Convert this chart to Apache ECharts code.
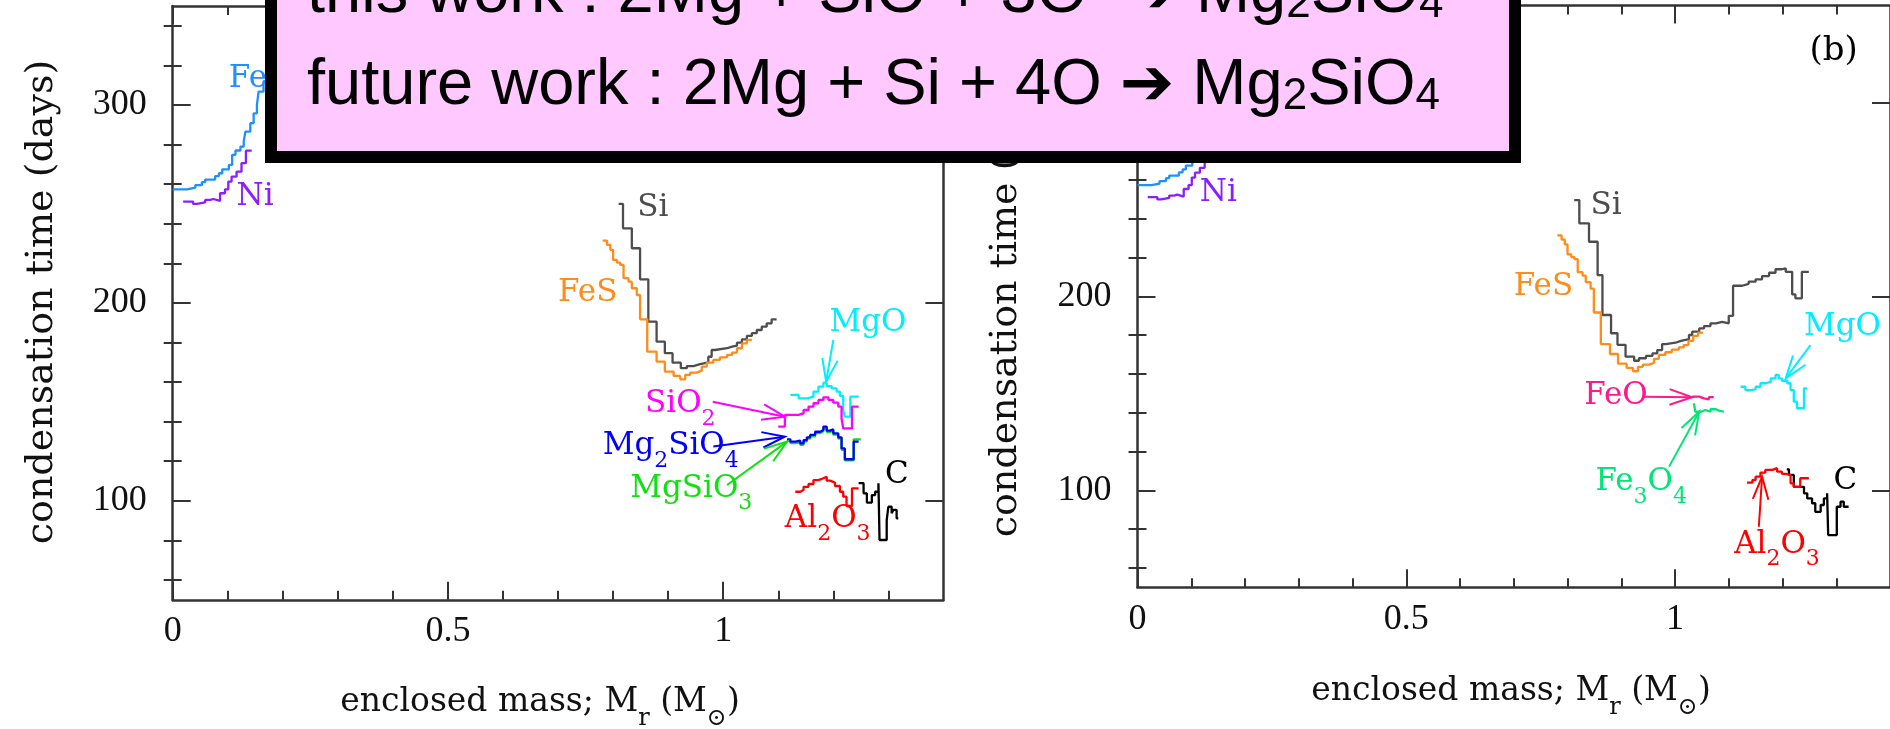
<!DOCTYPE html>
<html><head><meta charset="utf-8">
<script src="https://cdn.jsdelivr.net/npm/echarts@6/dist/echarts.min.js"></script>
<style>html,body{margin:0;padding:0;background:#fff}#c{width:1890px;height:729px}</style>
</head><body><div id="c"></div>
<script>
// ---- tick values ----
const xMajorTicks = [0, 0.5, 1];
const xMinorTicks = [0.1,0.2,0.3,0.4,0.6,0.7,0.8,0.9,1.1,1.2,1.3];
const yMajorTicks = [100, 200, 300];
const yMinorTicks = [60,80,120,140,160,180,220,240,260,280,320,340];

// ---- series data: [enclosed mass, condensation time] (step: value holds until next x) ----
const fe = [[0,257.4],[0.026,258.2],[0.041,259.5],[0.053,261],[0.059,262.3],[0.077,264],[0.084,265.5],[0.09,267.5],[0.102,269.7],[0.108,274.8],[0.114,277],[0.123,279],[0.129,281.5],[0.132,286.5],[0.141,290.8],[0.147,295.8],[0.153,300],[0.156,306.7],[0.165,312],[0.175,318],[0.185,318]];
const ni = [[0.019,251.2],[0.037,250],[0.044,250.8],[0.059,252],[0.068,252.5],[0.074,251.5],[0.086,255.4],[0.095,257.4],[0.101,261.3],[0.107,263.8],[0.116,266.3],[0.125,270.6],[0.133,276.9],[0.1435,276.9]];
const siA = [[0.810,250],[0.818,237.7],[0.834,227.6],[0.849,211.9],[0.864,190.5],[0.879,180.4],[0.894,174.6],[0.908,169.8],[0.923,167],[0.934,168.1],[0.946,169.1],[0.958,170],[0.973,172.8],[0.979,176.2],[0.985,177.1],[1.007,177.9],[1.016,178.4],[1.025,179.9],[1.034,181.6],[1.043,183.3],[1.052,184.7],[1.061,186.3],[1.070,188],[1.079,189.7],[1.088,191.7],[1.097,191.7]];
const fes = [[0.781,231.5],[0.789,229.3],[0.795,226.8],[0.800,221.7],[0.807,220.3],[0.813,219.2],[0.819,212.5],[0.828,210.7],[0.834,207.4],[0.843,204],[0.849,191.7],[0.862,175.4],[0.879,170.3],[0.894,165.3],[0.910,163.1],[0.922,161.4],[0.931,163.6],[0.940,164.8],[0.952,165.8],[0.961,167.8],[0.970,169.8],[0.982,171.2],[0.994,172.5],[1.007,173.7],[1.016,174.9],[1.025,177.1],[1.034,179.6],[1.043,181.3],[1.052,181.3]];
const mgoA = [[1.122,153.5],[1.137,151.8],[1.152,152.6],[1.164,155.2],[1.173,157.7],[1.182,159.7],[1.188,158],[1.197,156.8],[1.206,155.2],[1.212,153],[1.218,145.9],[1.221,142.5],[1.231,152.6],[1.246,152.6]];
const sio2 = [[1.100,137.5],[1.112,143.4],[1.137,144.2],[1.146,145.9],[1.155,147.6],[1.164,149.3],[1.173,151],[1.182,152.3],[1.191,151],[1.200,149.6],[1.209,147.6],[1.215,141.6],[1.218,136.6],[1.234,147.6],[1.246,147.6]];
const mg2sio4 = [[1.116,131.1],[1.122,129.9],[1.131,130.4],[1.140,129],[1.146,130.7],[1.152,132.1],[1.158,133.3],[1.167,134.9],[1.176,135.8],[1.182,137.5],[1.188,135.5],[1.194,136.1],[1.200,134.1],[1.209,132.1],[1.215,126.5],[1.221,121],[1.237,129.9],[1.246,129.9]];
const mgsio3 = [[1.116,130.3],[1.122,129.2],[1.131,129.6],[1.140,128.3],[1.146,130],[1.152,131.4],[1.158,132.6],[1.167,134.2],[1.176,135.1],[1.182,136.6],[1.188,134.8],[1.194,135.3],[1.200,133.4],[1.209,131.4],[1.215,125.8],[1.221,120.4],[1.237,131.1],[1.250,131.1]];
const al2o3A = [[1.131,104.6],[1.140,105.5],[1.146,107.1],[1.155,108.5],[1.164,110.5],[1.173,111.4],[1.182,112.2],[1.188,110.2],[1.194,109.2],[1.203,107.5],[1.212,104.6],[1.218,102.1],[1.224,97.4],[1.234,106.3],[1.246,106.3]];
const cA = [[1.246,108.9],[1.255,103.8],[1.261,99.1],[1.270,102.9],[1.276,104.6],[1.282,108.9],[1.284,80.2],[1.297,90.3],[1.300,97],[1.306,93.7],[1.309,95.4],[1.315,91.2],[1.318,91.2]];

const siB = [[0.8125,249.7],[0.822,237.7],[0.840,228.2],[0.856,211],[0.865,190.4],[0.881,181],[0.893,175],[0.908,168.9],[0.924,166.8],[0.933,168.1],[0.946,169.3],[0.958,170.6],[0.967,172.3],[0.976,175.4],[0.983,176.1],[1.001,177.1],[1.011,177.9],[1.026,180.1],[1.032,181.8],[1.045,183.5],[1.054,184.7],[1.066,186.1],[1.076,186.9],[1.088,186.1],[1.100,190],[1.108,205.5],[1.125,206.5],[1.137,207.6],[1.150,208.8],[1.162,210.5],[1.175,212.2],[1.187,214],[1.199,214.5],[1.206,212.7],[1.218,201],[1.224,199],[1.236,212.7],[1.249,212.7]];
const mgoB = [[1.122,153.4],[1.131,151.7],[1.141,152],[1.150,153.4],[1.159,155.2],[1.168,155.9],[1.178,157.7],[1.187,159.5],[1.193,157.7],[1.199,156.5],[1.209,155.2],[1.215,151.7],[1.221,145.7],[1.227,142.3],[1.240,152.6],[1.246,152.6]];
const feo = [[1.032,148.3],[1.045,147.4],[1.054,146.9],[1.063,148],[1.072,148]];
const fe3o4 = [[1.035,144.9],[1.038,140.5],[1.048,141.4],[1.057,140.5],[1.066,141.8],[1.076,141.1],[1.082,140.5],[1.091,140.5]];
const al2o3B = [[1.134,103.9],[1.144,105.3],[1.150,107],[1.159,109.1],[1.168,110.5],[1.181,111.4],[1.190,109.6],[1.199,108.5],[1.206,107.9],[1.215,103.6],[1.221,101.8],[1.233,106.2],[1.249,106.2]];
const cB = [[1.208,110.8],[1.212,107.9],[1.221,101.8],[1.240,98.4],[1.246,95.8],[1.255,93.3],[1.261,88.9],[1.271,92.4],[1.277,95.8],[1.283,98.4],[1.285,76.9],[1.301,91.5],[1.308,94.1],[1.314,91.5],[1.323,91.5]];

// ---- annotation texts (odd parts are subscripts) ----
const labelsA = [
  {parts:['Fe'], x:0.102, y:313, c:'fe'},
  {parts:['Ni'], x:0.116, y:253.3, c:'ni'},
  {parts:['Si'], x:0.844, y:248, c:'si'},
  {parts:['FeS'], x:0.700, y:205, c:'fes'},
  {parts:['MgO'], x:1.193, y:190.1, c:'mgo'},
  {parts:['SiO','2'], x:0.858, y:148.8, c:'sio2'},
  {parts:['Mg','2','SiO','4'], x:0.781, y:127.5, c:'mg2sio4'},
  {parts:['MgSiO','3'], x:0.831, y:106.1, c:'mgsio3'},
  {parts:['Al','2','O','3'], x:1.112, y:90.8, c:'al2o3'},
  {parts:['C'], x:1.294, y:113.1, c:'c'}
];
const labelsB = [
  {parts:['Fe'], x:0.102, y:313, c:'fe'},
  {parts:['Ni'], x:0.116, y:253.3, c:'ni'},
  {parts:['Si'], x:0.843, y:246.6, c:'si'},
  {parts:['FeS'], x:0.700, y:204.7, c:'fes'},
  {parts:['MgO'], x:1.240, y:184.4, c:'mgo'},
  {parts:['FeO'], x:0.831, y:148.6, c:'feo'},
  {parts:['Fe','3','O','4'], x:0.852, y:104.3, c:'fe3o4'},
  {parts:['Al','2','O','3'], x:1.110, y:72.0, c:'al2o3'},
  {parts:['C'], x:1.295, y:104.9, c:'c'},
  {parts:['(b)'], x:1.250, y:326.6, c:'c'}
];
const arrowsA = [
  {from:[1.200,181.3], to:[1.187,160.2], c:'mgo'},
  {from:[0.981,150.1], to:[1.112,142.5], c:'sio2'},
  {from:[0.982,127.4], to:[1.112,132.4], c:'mg2sio4'},
  {from:[1.007,108.0], to:[1.116,129.9], c:'mgsio3'}
];
const arrowsB = [
  {from:[1.252,174.9], to:[1.206,157.7], c:'mgo'},
  {from:[0.942,148.3], to:[1.032,148.0], c:'feo'},
  {from:[0.989,112.2], to:[1.045,140.5], c:'fe3o4'},
  {from:[1.156,81.2], to:[1.162,107.0], c:'al2o3'}
];
const xNameParts = ['enclosed mass; M', 'r', ' (M', '\u2299', ')'];
const yNameText = 'condensation time (days)';

const COL = {fe:'#1E90FF', ni:'#8A1EFF', si:'#4D4D4D', fes:'#FF8C1A', mgo:'#00EEFF', sio2:'#FF00FF',
  mg2sio4:'#0000FF', mgsio3:'#10E010', al2o3:'#FF0000', c:'#000000', feo:'#FF1A8C', fe3o4:'#00E676'};

const SERIF = 'DejaVu Serif';
const TICKFONT = 'Liberation Serif';
const FRAME = '#333';
const TXT = '#111';

const mctx = document.createElement('canvas').getContext('2d');
function textWidth(t, size, fam) { mctx.font = size + 'px "' + fam + '"'; return mctx.measureText(t).width; }
// build text elements for parts: x = left edge, y = middle of main text
function partEls(parts, x, y, o) {
  let cx = x; const els = [];
  parts.forEach(function(p, i) {
    const sub = i % 2 === 1, size = sub ? o.sub : o.main;
    els.push({type:'text', x:cx, y:y + (sub ? o.dy : 0), silent:true,
      style:{text:p, fontFamily:o.family, fontSize:size, fill:o.color, align:'left', verticalAlign:'middle'}});
    cx += textWidth(p, size, o.family);
  });
  return els;
}
function partsWidth(parts, o) {
  return parts.reduce(function(s, p, i) { return s + textWidth(p, i % 2 ? o.sub : o.main, o.family); }, 0);
}

function xAxesFor(g) {
  const base = {gridIndex:g, type:'value', min:0, max:1.4, splitLine:{show:false},
    axisLine:{show:true, onZero:false, lineStyle:{color:FRAME, width:2.5}}};
  const major = {show:true, inside:true, length:18, customValues:xMajorTicks, lineStyle:{color:FRAME, width:2}};
  const minor = {show:true, inside:true, length:9, customValues:xMinorTicks, lineStyle:{color:FRAME, width:2}};
  return [
    Object.assign({}, base, {position:'bottom', axisTick:major,
      axisLabel:{show:true, customValues:xMajorTicks, margin:14, fontFamily:TICKFONT, fontSize:36, color:TXT}}),
    Object.assign({}, base, {position:'bottom', axisLine:{show:false}, axisTick:minor, axisLabel:{show:false}}),
    Object.assign({}, base, {position:'top', axisTick:major, axisLabel:{show:false}}),
    Object.assign({}, base, {position:'top', axisLine:{show:false}, axisTick:minor, axisLabel:{show:false}})
  ];
}
function yAxesFor(g) {
  const base = {gridIndex:g, type:'value', min:50, max:350, splitLine:{show:false},
    axisLine:{show:true, onZero:false, lineStyle:{color:FRAME, width:2.5}}};
  const major = {show:true, inside:true, length:18, customValues:yMajorTicks, lineStyle:{color:FRAME, width:2}};
  const minor = {show:true, inside:true, length:9, customValues:yMinorTicks, lineStyle:{color:FRAME, width:2}};
  return [
    Object.assign({}, base, {position:'left', axisTick:major,
      axisLabel:{show:true, customValues:yMajorTicks, margin:26, fontFamily:TICKFONT, fontSize:36, color:TXT}}),
    Object.assign({}, base, {position:'left', axisLine:{show:false}, axisTick:minor, axisLabel:{show:false}}),
    Object.assign({}, base, {position:'right', axisTick:major, axisLabel:{show:false}}),
    Object.assign({}, base, {position:'right', axisLine:{show:false}, axisTick:minor, axisLabel:{show:false}})
  ];
}

function step(data, key, g) {
  return {type:'line', step:'end', data:data, xAxisIndex:g*4, yAxisIndex:g*4, showSymbol:false, symbol:'none',
    lineStyle:{color:COL[key], width:2.3}, itemStyle:{color:COL[key]}, silent:true, animation:false, z:3};
}
function labelSeries(items, g) {
  return {type:'custom', coordinateSystem:'cartesian2d', xAxisIndex:g*4, yAxisIndex:g*4, silent:true, z:6,
    clip:false, animation:false, data: items.map(function(d){ return [d.x, d.y]; }),
    renderItem: function(params, api) {
      const d = items[params.dataIndex];
      const p = api.coord([api.value(0), api.value(1)]);
      const big = d.parts[0] === '(b)';
      return {type:'group', children: partEls(d.parts, p[0], p[1],
        {main: big ? 34 : 31, sub: 22, dy: 15, family: SERIF, color: COL[d.c]})};
    }};
}
function arrowSeries(items, g) {
  return {type:'custom', coordinateSystem:'cartesian2d', xAxisIndex:g*4, yAxisIndex:g*4, silent:true, z:5,
    clip:false, animation:false, data: items.map(function(d){ return [d.from[0], d.from[1], d.to[0], d.to[1]]; }),
    renderItem: function(params, api) {
      const d = items[params.dataIndex];
      const col = COL[d.c];
      const p1 = api.coord([api.value(0), api.value(1)]);
      const p2 = api.coord([api.value(2), api.value(3)]);
      const ang = Math.atan2(p2[1]-p1[1], p2[0]-p1[0]);
      const L = 24, a = 0.33;
      const w1 = [p2[0]-L*Math.cos(ang-a), p2[1]-L*Math.sin(ang-a)];
      const w2 = [p2[0]-L*Math.cos(ang+a), p2[1]-L*Math.sin(ang+a)];
      return {type:'group', children:[
        {type:'line', shape:{x1:p1[0], y1:p1[1], x2:p2[0], y2:p2[1]}, style:{stroke:col, lineWidth:2}},
        {type:'polyline', shape:{points:[w1, p2, w2]}, style:{stroke:col, lineWidth:2, fill:null}}
      ]};
    }};
}

const boxRich = {
  a:{fontFamily:'Liberation Sans, DejaVu Sans', fontSize:65, lineHeight:65, fill:'#000'},
  s:{fontFamily:'Liberation Sans, DejaVu Sans', fontSize:44, lineHeight:51, verticalAlign:'bottom', fill:'#000'}
};

// axis names as graphic text
const xNameOpt = {main:33, sub:24, dy:17, family:SERIF, color:TXT};
const xNameW = partsWidth(xNameParts, xNameOpt);
const nameGraphics = [
  {type:'group', silent:true, children: partEls(xNameParts, 540 - xNameW/2, 702, xNameOpt)},
  {type:'group', silent:true, children: partEls(xNameParts, 1511 - xNameW/2, 691, xNameOpt)},
  {type:'text', silent:true, x:42, y:302, rotation:Math.PI/2,
    style:{text:yNameText, fontFamily:SERIF, fontSize:38, fill:TXT, align:'center', verticalAlign:'middle'}},
  {type:'text', silent:true, x:1006, y:295, rotation:Math.PI/2,
    style:{text:yNameText, fontFamily:SERIF, fontSize:38, fill:TXT, align:'center', verticalAlign:'middle'}}
];

const option = {
  backgroundColor:'#fff',
  animation:false,
  grid:[
    {left:172.7, top:6, width:770.7, height:593.8},
    {left:1137.5, top:5.6, width:752.5, height:581.6}
  ],
  xAxis: xAxesFor(0).concat(xAxesFor(1)),
  yAxis: yAxesFor(0).concat(yAxesFor(1)),
  series: [
    step(fe,'fe',0), step(ni,'ni',0), step(siA,'si',0), step(fes,'fes',0), step(mgoA,'mgo',0),
    step(sio2,'sio2',0), step(mgsio3,'mgsio3',0), step(mg2sio4,'mg2sio4',0), step(al2o3A,'al2o3',0), step(cA,'c',0),
    arrowSeries(arrowsA,0), labelSeries(labelsA,0),
    step(fe,'fe',1), step(ni,'ni',1), step(siB,'si',1), step(fes,'fes',1), step(mgoB,'mgo',1),
    step(feo,'feo',1), step(fe3o4,'fe3o4',1), step(cB,'c',1), step(al2o3B,'al2o3',1),
    arrowSeries(arrowsB,1), labelSeries(labelsB,1)
  ],
  graphic: nameGraphics.concat([
    {type:'rect', z:100, silent:true, shape:{x:271, y:-30, width:1244, height:187},
      style:{fill:'#FFC8FF', stroke:'#000', lineWidth:12}},
    {type:'text', z:101, silent:true, x:307, y:-6, style:{
      text:'{a|this work : 2Mg + SiO + 3O  \u2794 Mg}{s|2}{a|SiO}{s|4}', rich:boxRich, align:'left', verticalAlign:'middle', fill:'#000'}},
    {type:'text', z:101, silent:true, x:307, y:86, style:{
      text:'{a|future work : 2Mg + Si + 4O \u2794 Mg}{s|2}{a|SiO}{s|4}', rich:boxRich, align:'left', verticalAlign:'middle', fill:'#000'}}
  ])
};
const chart = echarts.init(document.getElementById('c'));
chart.setOption(option);
</script></body></html>
